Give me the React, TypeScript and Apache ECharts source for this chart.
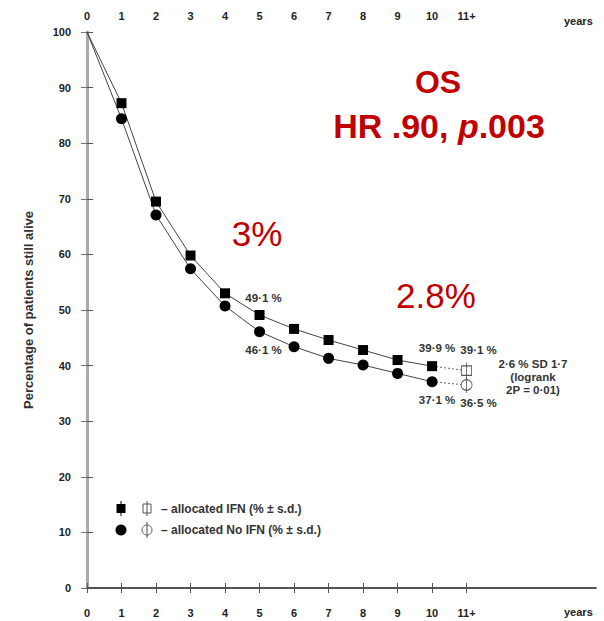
import React, { useEffect, useRef } from "react";
import * as echarts from "echarts";

const years = [0, 1, 2, 3, 4, 5, 6, 7, 8, 9, 10];
const ifn = [100, 87.2, 69.5, 59.8, 53.0, 49.1, 46.6, 44.6, 42.8, 41.0, 39.9];
const noIfn = [100, 84.4, 67.1, 57.4, 50.7, 46.1, 43.4, 41.3, 40.1, 38.6, 37.1];
const finalYear = 11;
const ifnFinal = 39.1;
const noIfnFinal = 36.5;
const xTickLabels = ["0", "1", "2", "3", "4", "5", "6", "7", "8", "9", "10", "11+"];
const yTicks = [0, 10, 20, 30, 40, 50, 60, 70, 80, 90, 100];

const openSquare = "path://M0,3 L10,3 L10,12 L0,12 Z M5,0 L5,15";
const openCircle = "path://M0,7.5 A5,5 0 1,1 10,7.5 A5,5 0 1,1 0,7.5 Z M5,0 L5,15";

const FF = "Liberation Sans, Arial, sans-serif";
const labelFont = { fontFamily: FF, fontWeight: "bold" as const, fontSize: 11.5, color: "#333" };

export default function App() {
  const ref = useRef<HTMLDivElement>(null);
  useEffect(() => {
    document.body.style.margin = "0";
    const chart = echarts.init(ref.current!, null, { renderer: "svg" });
    const tickVals = xTickLabels.map((_, i) => i);
    const mkData = (vals: number[], labels: Record<number, any>) =>
      years.map((y, i) => {
        const item: any = { value: [y, vals[i]] };
        if (i === 0) item.symbol = "none";
        if (labels[i]) item.label = { show: true, position: "inside", ...labelFont, ...labels[i] };
        return item;
      });
    const xAxisCommon = {
      type: "value",
      min: 0,
      max: 14.75,
      interval: 1,
      splitLine: { show: false },
      axisTick: { show: true, inside: true, length: 5, customValues: tickVals, lineStyle: { color: "#555" } },
      axisLabel: {
        customValues: tickVals,
        formatter: (v: number) => xTickLabels[Math.round(v)] ?? "",
        fontFamily: FF,
        fontWeight: "bold",
        fontSize: 11,
        color: "#222",
        margin: 19,
      },
    };
    chart.setOption({
      animation: false,
      backgroundColor: "#fff",
      grid: { left: 87, right: 8, top: 32, bottom: 33 },
      xAxis: [
        { ...xAxisCommon, position: "bottom", axisLine: { lineStyle: { color: "#999", width: 1.5 } } },
        { ...xAxisCommon, position: "top", axisLine: { lineStyle: { color: "#333", width: 1.5 } }, axisLabel: { ...xAxisCommon.axisLabel, margin: 11 } },
      ],
      yAxis: [
        {
          type: "value",
          min: 0,
          max: 100,
          interval: 10,
          position: "left",
          splitLine: { show: false },
          axisLine: { show: true, lineStyle: { color: "#999", width: 1.5 } },
          axisTick: { show: true, inside: true, length: 6, lineStyle: { color: "#555" } },
          axisLabel: {
            formatter: (v: number) => (yTicks.includes(v) ? String(v) : ""),
            fontFamily: FF,
            fontWeight: "bold",
            fontSize: 11,
            color: "#222",
            margin: 16,
          },
          name: "Percentage of patients still alive",
          nameLocation: "middle",
          nameGap: 52,
          nameTextStyle: { fontFamily: FF, fontWeight: "bold", fontSize: 13, color: "#333" },
        },
        {
          type: "value",
          min: 0,
          max: 100,
          interval: 10,
          position: "right",
          splitLine: { show: false },
          axisLine: { show: true, lineStyle: { color: "#aaa", width: 3 } },
          axisTick: { show: true, inside: true, length: 6, lineStyle: { color: "#777" } },
          axisLabel: { show: false },
        },
      ],
      series: [
        {
          type: "line",
          data: mkData(ifn, {
            5: { formatter: "49·1 %", offset: [4, -17] },
            10: { formatter: "39·9 %", offset: [5, -18] },
          }),
          symbol: "rect",
          symbolSize: 10,
          lineStyle: { color: "#444", width: 1 },
          itemStyle: { color: "#000" },
          z: 3,
        },
        {
          type: "line",
          data: mkData(noIfn, {
            5: { formatter: "46·1 %", offset: [4, 18] },
            10: { formatter: "37·1 %", offset: [5, 18] },
          }),
          symbol: "circle",
          symbolSize: 11,
          lineStyle: { color: "#444", width: 1 },
          itemStyle: { color: "#000" },
          z: 3,
        },
        {
          type: "line",
          data: [
            { value: [years[10], ifn[10]], symbol: "none" },
            { value: [finalYear, ifnFinal], label: { show: true, position: "inside", ...labelFont, formatter: "39·1 %", offset: [12, -21] } },
          ],
          symbol: openSquare,
          symbolSize: [10, 16],
          lineStyle: { color: "#666", width: 1, type: [2, 2] },
          itemStyle: { color: "#fff", borderColor: "#555", borderWidth: 1 },
          z: 2,
        },
        {
          type: "line",
          data: [
            { value: [years[10], noIfn[10]], symbol: "none" },
            { value: [finalYear, noIfnFinal], label: { show: true, position: "inside", ...labelFont, formatter: "36·5 %", offset: [12, 18] } },
          ],
          symbol: openCircle,
          symbolSize: [11, 16],
          lineStyle: { color: "#666", width: 1, type: [2, 2] },
          itemStyle: { color: "#fff", borderColor: "#555", borderWidth: 1 },
          z: 2,
        },
      ],
      graphic: [
        { type: "text", left: 564, top: 15, style: { text: "years", fontFamily: FF, fontWeight: "bold", fill: "#222", fontSize: 11 } },
        { type: "text", left: 564, top: 606, style: { text: "years", fontFamily: FF, fontWeight: "bold", fill: "#222", fontSize: 11 } },
        {
          type: "text", x: 533, y: 377,
          style: { text: "2·6 % SD 1·7\n(logrank\n2P = 0·01)", fontFamily: FF, fontWeight: "bold", fontSize: 11.5, fill: "#333", align: "center", verticalAlign: "middle", lineHeight: 13 },
        },
        { type: "text", x: 438, y: 82, style: { text: "OS", fontFamily: FF, fontWeight: "bold", fontSize: 32, fill: "#c00000", align: "center", verticalAlign: "middle" } },
        {
          type: "text", x: 439, y: 126,
          style: {
            text: "{a|HR .90, }{b|p}{a|.003}",
            align: "center",
            verticalAlign: "middle",
            rich: {
              a: { fontFamily: FF, fontWeight: "bold", fontSize: 34, fill: "#c00000", color: "#c00000" },
              b: { fontFamily: FF, fontWeight: "bold", fontStyle: "italic", fontSize: 34, fill: "#c00000", color: "#c00000" },
            },
          },
        },
        { type: "text", x: 257, y: 233, style: { text: "3%", fontFamily: FF, fontSize: 35, fill: "#c00000", align: "center", verticalAlign: "middle" } },
        { type: "text", x: 436, y: 295, style: { text: "2.8%", fontFamily: FF, fontSize: 35, fill: "#c00000", align: "center", verticalAlign: "middle" } },
        // legend icons
        { type: "line", shape: { x1: 121, y1: 501, x2: 121, y2: 516 }, style: { stroke: "#000", lineWidth: 1 } },
        { type: "rect", shape: { x: 116.5, y: 504, width: 9, height: 9 }, style: { fill: "#000" } },
        { type: "line", shape: { x1: 147, y1: 501, x2: 147, y2: 516 }, style: { stroke: "#555", lineWidth: 1 } },
        { type: "rect", shape: { x: 143, y: 504, width: 8, height: 9 }, style: { fill: "none", stroke: "#555", lineWidth: 1 } },
        { type: "text", x: 161, y: 509, style: { text: "– allocated IFN (% ± s.d.)", fontFamily: FF, fontWeight: "bold", fontSize: 12, fill: "#333", verticalAlign: "middle" } },
        { type: "circle", shape: { cx: 121, cy: 530, r: 5.5 }, style: { fill: "#000" } },
        { type: "line", shape: { x1: 147, y1: 522, x2: 147, y2: 538 }, style: { stroke: "#555", lineWidth: 1 } },
        { type: "circle", shape: { cx: 147, cy: 530, r: 5 }, style: { fill: "none", stroke: "#555", lineWidth: 1 } },
        { type: "text", x: 161, y: 530, style: { text: "– allocated No IFN (% ± s.d.)", fontFamily: FF, fontWeight: "bold", fontSize: 12, fill: "#333", verticalAlign: "middle" } },
      ],
    });
    return () => chart.dispose();
  }, []);
  return <div ref={ref} style={{ width: 604, height: 621 }} />;
}
